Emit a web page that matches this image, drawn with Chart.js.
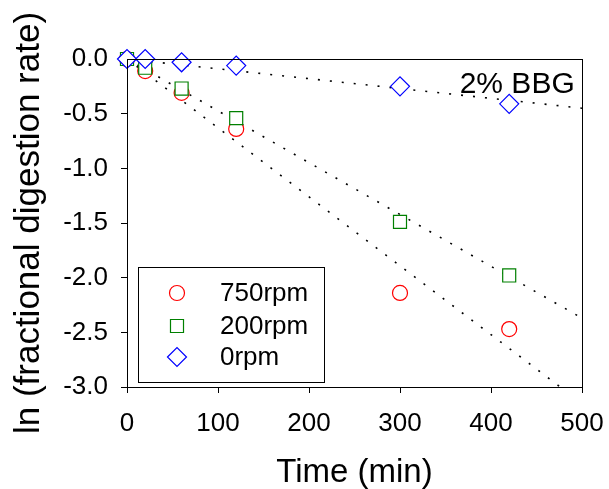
<!DOCTYPE html>
<html>
<head>
<meta charset="utf-8">
<script src="https://cdn.jsdelivr.net/npm/chart.js@4.4.0/dist/chart.umd.min.js"></script>
<style>
  html, body { margin: 0; padding: 0; background: #fff; }
</style>
</head>
<body>
<canvas id="digestChart" width="609" height="489"></canvas>
<script>
const timeMin = [0, 20, 60, 120, 300, 420];
const rate750 = [0, -0.11, -0.31, -0.64, -2.14, -2.47];
const rate200 = [0, -0.08, -0.27, -0.54, -1.49, -1.98];
const rate0 = [0, 0, -0.03, -0.06, -0.25, -0.41];

// dotted trend lines, end points
const fit750 = [[0, 0], [476, -3.0]];
const fit200 = [[0, 0], [500, -2.37]];
const fit0 = [[0, 0], [500, -0.45]];

const xTicks = [0, 100, 200, 300, 400, 500];
const yTicks = [0, -0.5, -1, -1.5, -2, -2.5, -3];
const FONT = "'Liberation Sans', Arial, sans-serif";

const toPts = (xs, ys) => xs.map((x, i) => ({ x: x, y: ys[i] }));
const toLine = (arr) => arr.map((p) => ({ x: p[0], y: p[1] }));

function markerSet(label, ys, color, style, radius, order) {
	return {
		label: label,
		data: toPts(timeMin, ys),
		showLine: false,
		pointStyle: style,
		pointRadius: radius,
		pointHoverRadius: radius,
		pointBorderColor: color,
		pointBackgroundColor: "#ffffff",
		pointBorderWidth: 1.2,
		clip: false,
		order: order,
	};
}

function fitSet(arr) {
	return {
		label: "",
		data: toLine(arr),
		showLine: true,
		borderColor: "#000000",
		borderWidth: 1.6,
		borderDash: [2, 10],
		pointRadius: 0,
		fill: false,
		order: 5,
		isFit: true,
	};
}

// frame around the plot area + the "2% BBG" note
const frame = {
	id: "frame",
	afterDatasetsDraw(chart) {
		const { ctx, chartArea: a, scales } = chart;
		ctx.save();
		ctx.strokeStyle = "#000";
		ctx.lineWidth = 1;
		ctx.strokeRect(Math.round(a.left) + 0.5, Math.round(a.top) + 0.5, Math.round(a.right - a.left), Math.round(a.bottom - a.top));
		ctx.fillStyle = "#000";
		ctx.font = "30px " + FONT;
		ctx.textAlign = "right";
		ctx.textBaseline = "alphabetic";
		ctx.fillText("2% BBG", scales.x.getPixelForValue(492), scales.y.getPixelForValue(-0.31));
		ctx.restore();
	},
};

// legend box in lower left corner
const boxLegend = {
	id: "boxLegend",
	afterDraw(chart) {
		const { ctx, chartArea: a } = chart;
		const x0 = a.left + 11, y0 = a.bottom - 120, w = 186, h = 115;
		ctx.save();
		ctx.fillStyle = "#fff";
		ctx.fillRect(x0, y0, w, h);
		ctx.strokeStyle = "#000";
		ctx.lineWidth = 1;
		ctx.strokeRect(x0 + 0.5, y0 + 0.5, w, h);
		const rows = [26, 59, 90];
		let r = 0;
		chart.data.datasets.forEach((ds) => {
			if (ds.isFit) return;
			const cy = y0 + rows[r++];
			ctx.strokeStyle = ds.pointBorderColor;
			ctx.fillStyle = "#fff";
			ctx.lineWidth = ds.pointBorderWidth;
			Chart.helpers.drawPoint(ctx, { pointStyle: ds.pointStyle, radius: ds.pointRadius, borderWidth: ds.pointBorderWidth }, x0 + 39, cy);
			ctx.fillStyle = "#000";
			ctx.font = "26px " + FONT;
			ctx.textAlign = "left";
			ctx.textBaseline = "middle";
			ctx.fillText(ds.label, x0 + 82, cy + 1);
		});
		ctx.restore();
	},
};

new Chart(document.getElementById("digestChart"), {
	type: "scatter",
	data: {
		datasets: [
			markerSet("750rpm", rate750, "#ff0000", "circle", 7.5, 2),
			markerSet("200rpm", rate200, "#008000", "rect", 9.2, 1),
			markerSet("0rpm", rate0, "#0000ff", "rectRot", 9.5, 0),
			fitSet(fit750),
			fitSet(fit200),
			fitSet(fit0),
		],
	},
	options: {
		responsive: false,
		animation: false,
		devicePixelRatio: 1,
		layout: { padding: { top: 59, right: 27, bottom: 0, left: 0 } },
		plugins: { legend: { display: false }, tooltip: { enabled: false } },
		scales: {
			x: {
				type: "linear",
				min: 0,
				max: 500,
				afterBuildTicks: (s) => { s.ticks = xTicks.map((v) => ({ value: v })); },
				afterFit: (s) => { s.height = 102; s.paddingLeft = 0; s.paddingRight = 0; },
				grid: { display: true, drawOnChartArea: false, drawTicks: true, tickLength: 6, color: "#000" },
				border: { display: true, color: "#000", width: 1 },
				ticks: { color: "#000", padding: 15, font: { family: FONT, size: 26 }, maxRotation: 0 },
				title: { display: true, text: "Time (min)", color: "#000", font: { family: FONT, size: 33, lineHeight: 1 }, padding: { top: 0, bottom: 0 } },
			},
			y: {
				type: "linear",
				min: -3,
				max: 0,
				afterBuildTicks: (s) => { s.ticks = yTicks.map((v) => ({ value: v })); },
				afterFit: (s) => { s.width = 127; s.paddingTop = 0; s.paddingBottom = 0; },
				grid: { display: true, drawOnChartArea: false, drawTicks: true, tickLength: 6, color: "#000" },
				border: { display: true, color: "#000", width: 1 },
				ticks: { color: "#000", padding: 13, font: { family: FONT, size: 26 }, callback: (v) => Number(v).toFixed(1) },
				title: { display: true, text: "ln (fractional digestion rate)", color: "#000", font: { family: FONT, size: 35, lineHeight: 1 }, padding: { top: 12, bottom: 0 } },
			},
		},
	},
	plugins: [frame, boxLegend],
});
</script>
</body>
</html>
